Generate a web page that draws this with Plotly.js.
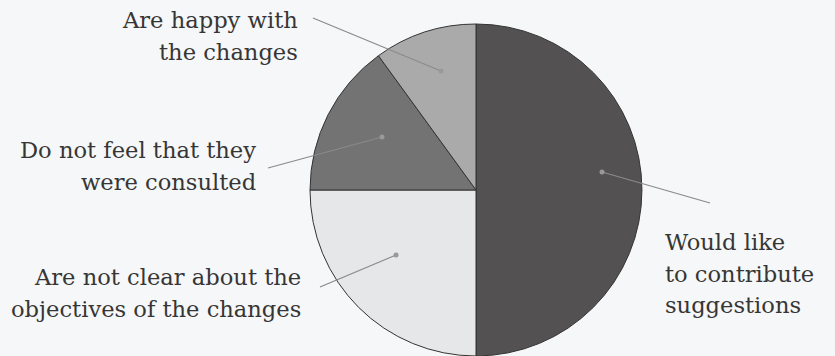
<!DOCTYPE html>
<html>
<head>
<meta charset="utf-8">
<script src="https://cdn.plot.ly/plotly-3.0.1.min.js"></script>
<style>
  html, body { margin: 0; padding: 0; background: #f6f7f8; }
  #chart { width: 835px; height: 356px; }
</style>
</head>
<body>
<div id="chart"></div>
<script>
// Data (clockwise from 12 o'clock)
var categories = [
  "Would like<br>to contribute<br>suggestions",
  "Are not clear about the<br>objectives of the changes",
  "Do not feel that they<br>were consulted",
  "Are happy with<br>the changes"
];
var values = [50, 25, 15, 10];
var sliceColors = ["#545153", "#e6e7e9", "#747373", "#aaaaaa"];

// Label placement (paper pixels): text anchor, leader line from -> to (dot in slice)
var labelStyle = [
  {x: 663, y: 242, align: "left",  from: [710, 203], to: [602, 172]},
  {x: 303, y: 277, align: "right", from: [320, 287], to: [396, 255]},
  {x: 258, y: 150, align: "right", from: [268, 168], to: [382, 137]},
  {x: 300, y: 20,  align: "right", from: [313, 18],  to: [441, 71]}
];

var W = 835, H = 356;
var lineGap = 31.5;
function px(x) { return x / W; }
function py(y) { return 1 - y / H; }

var annotations = [];
var shapes = [];
categories.forEach(function (cat, i) {
  var st = labelStyle[i];
  var lines = cat.split("<br>");
  lines.forEach(function (ln, j) {
    annotations.push({
      xref: "paper", yref: "paper",
      x: px(st.x), y: py(st.y + j * lineGap),
      xanchor: st.align, yanchor: "middle",
      text: ln, showarrow: false,
      font: {family: "DejaVu Serif, serif", size: 22.6, color: "#363636"}
    });
  });
  shapes.push({
    type: "line", xref: "paper", yref: "paper",
    x0: px(st.from[0]), y0: py(st.from[1]),
    x1: px(st.to[0]), y1: py(st.to[1]),
    line: {color: "#8a8a8a", width: 1.2}
  });
  shapes.push({
    type: "circle", xref: "paper", yref: "paper",
    x0: px(st.to[0] - 2.5), y0: py(st.to[1] + 2.5),
    x1: px(st.to[0] + 2.5), y1: py(st.to[1] - 2.5),
    fillcolor: "#999999", line: {width: 0}
  });
});

var trace = {
  type: "pie",
  labels: categories,
  values: values,
  sort: false,
  direction: "clockwise",
  rotation: 0,
  textinfo: "none",
  hoverinfo: "none",
  showlegend: false,
  marker: {colors: sliceColors, line: {color: "#333333", width: 1}},
  domain: {x: [310 / W, 642 / W], y: [0, 332 / H]}
};

var layout = {
  width: W, height: H,
  margin: {l: 0, r: 0, t: 0, b: 0},
  paper_bgcolor: "#f6f7f8",
  plot_bgcolor: "#f6f7f8",
  annotations: annotations,
  shapes: shapes
};

Plotly.newPlot("chart", [trace], layout, {staticPlot: true});
</script>
</body>
</html>
